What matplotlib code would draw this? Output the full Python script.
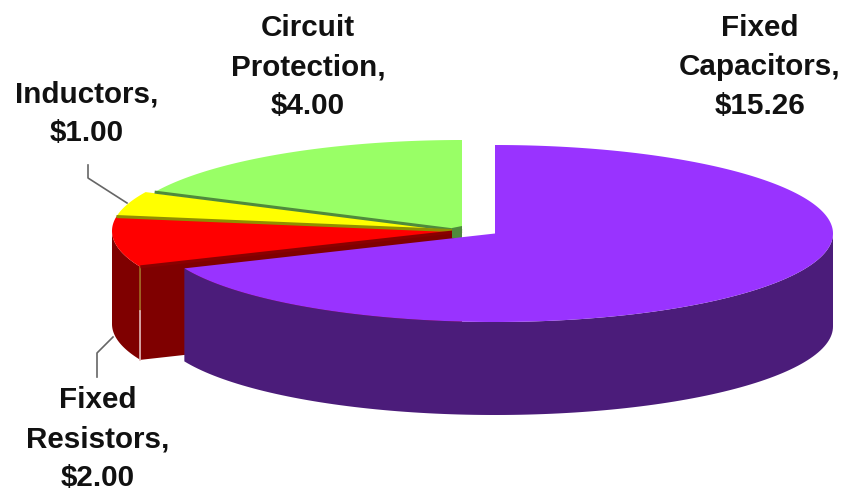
import numpy as np
import matplotlib.pyplot as plt
from matplotlib.patches import Polygon

labels = ["Fixed\nCapacitors,\n$15.26", "Fixed\nResistors,\n$2.00", "Inductors,\n$1.00", "Circuit\nProtection,\n$4.00"]
values = [15.26, 2.00, 1.00, 4.00]

top_colors = ["#9933FF", "#FF0000", "#FFFF00", "#99FF66"]
side_colors = ["#4B1C7A", "#7F0000", "#7F7F00", "#4C7F33"]
edge_colors = ["#4B1C7A", "#8A0000", "#8F8F00", "#4F8A3C"]

label_pos = [(760, 67), (98, 439), (87, 114), (308, 67)]

depth = 93


def rim(cx, cy, rx, ry, a0, a1, n=120, dy=0):
    # a0, a1 in degrees clockwise from 12 o'clock
    t = np.radians(np.linspace(a0, a1, n))
    return np.column_stack([cx + rx * np.sin(t), cy - ry * np.cos(t) + dy])


plt.rcParams["font.family"] = ["Liberation Sans", "DejaVu Sans"]
fig = plt.figure(figsize=(8.51, 4.92), dpi=100)
ax = fig.add_axes([0, 0, 1, 1])
ax.set_xlim(0, 851)
ax.set_ylim(492, 0)
ax.axis("off")

angles = np.cumsum([0] + values) / sum(values) * 360

# the small slices sit a bit to the left of the big one
big = (495, 233.5, 338, 88.5)
small = (462, 231, 350, 91)
small_rx = {1: 350, 2: 350, 3: 340}

# walls of the small slices
cx, cy, rx, ry = small
a = angles[1]
corner = rim(cx, cy, rx, ry, a, a, 1)[0]
ax.add_patch(Polygon([corner, (cx, cy), (cx, cy + depth), corner + (0, depth)], fc=side_colors[1], ec="none", zorder=1))
wall = rim(cx, cy, rx, ry, a, 270)
ax.add_patch(Polygon(np.vstack([wall, wall[::-1] + (0, depth)]), fc=side_colors[1], ec="none", zorder=1))
ax.plot([corner[0], corner[0]], [corner[1], corner[1] + 44], color="#A06A20", lw=1.2, zorder=2)
ax.plot([corner[0], corner[0]], [corner[1] + 44, corner[1] + depth], color="#E0B8B8", lw=1.2, zorder=2)

# small slices, top faces
for i in [3, 2, 1]:
    arc = rim(cx, cy, small_rx[i], ry, angles[i], angles[i + 1])
    ax.add_patch(Polygon(np.vstack([[(cx, cy)], arc]), fc=top_colors[i], ec="none", zorder=3))
    ax.plot([arc[0][0], cx], [arc[0][1], cy], color=edge_colors[i], lw=2.2, zorder=4, solid_capstyle="butt")

# dark tip where the small slices meet
ax.add_patch(Polygon([(452, 228), (462, 226), (462, 238), (452, 238)], fc=edge_colors[3], ec="none", zorder=4))

# big slice
cx, cy, rx, ry = big
end = angles[1]
wall = rim(cx, cy, rx, ry, 90, end)
ax.add_patch(Polygon(np.vstack([wall, wall[::-1] + (0, depth)]), fc=side_colors[0], ec="none", zorder=5))
arc = rim(cx, cy, rx, ry, 0, end, 240)
ax.add_patch(Polygon(np.vstack([[(cx, cy)], arc]), fc=top_colors[0], ec="none", zorder=6))

# leader lines
ax.plot([88, 88, 127], [165, 178, 203], color="#666666", lw=1.2, zorder=0)
ax.plot([97, 97, 113], [377, 353, 337], color="#666666", lw=1.2, zorder=0)

for name, (x, y) in zip(labels, label_pos):
    ax.text(x, y, name, ha="center", va="center", fontsize=21.3, fontweight="bold", color="#111111", linespacing=1.49, zorder=7)

fig.savefig("out.png", dpi=100)
